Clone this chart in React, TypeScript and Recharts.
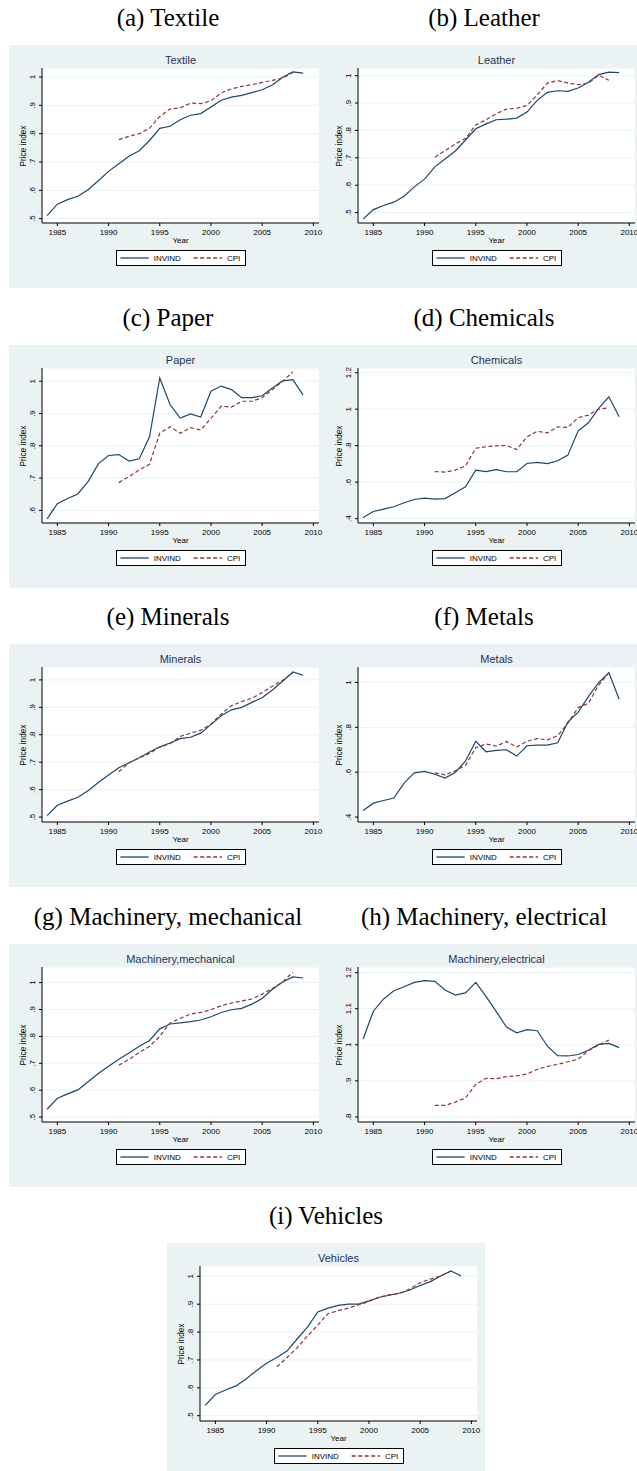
import React from 'react';
import { LineChart, Line, XAxis, YAxis, CartesianGrid } from 'recharts';

const YEARS = [1984, 1985, 1986, 1987, 1988, 1989, 1990, 1991, 1992, 1993, 1994, 1995, 1996, 1997, 1998, 1999, 2000, 2001, 2002, 2003, 2004, 2005, 2006, 2007, 2008, 2009];
const CPI_START = 1991;
const X_TICKS = [1985, 1990, 1995, 2000, 2005, 2010];
const SERIES_NAMES = ['INVIND', 'CPI'];

const textileInvind = [0.511, 0.551, 0.567, 0.579, 0.602, 0.634, 0.667, 0.694, 0.72, 0.74, 0.776, 0.819, 0.826, 0.849, 0.865, 0.871, 0.894, 0.918, 0.929, 0.935, 0.945, 0.955, 0.972, 0.999, 1.018, 1.014];
const textileCpi = [0.779, 0.791, 0.8, 0.819, 0.861, 0.887, 0.891, 0.908, 0.906, 0.916, 0.944, 0.958, 0.967, 0.973, 0.981, 0.988, 0.996, 1.016];

const leatherInvind = [0.476, 0.511, 0.526, 0.538, 0.56, 0.594, 0.622, 0.667, 0.696, 0.725, 0.765, 0.806, 0.824, 0.839, 0.841, 0.845, 0.867, 0.91, 0.939, 0.945, 0.943, 0.955, 0.976, 1.004, 1.013, 1.011];
const leatherCpi = [0.702, 0.726, 0.751, 0.771, 0.82, 0.839, 0.861, 0.878, 0.881, 0.891, 0.93, 0.973, 0.982, 0.973, 0.967, 0.973, 1.001, 0.983];

const paperInvind = [0.574, 0.621, 0.637, 0.651, 0.689, 0.744, 0.77, 0.773, 0.753, 0.76, 0.828, 1.01, 0.928, 0.886, 0.899, 0.889, 0.969, 0.985, 0.974, 0.949, 0.949, 0.955, 0.979, 1.001, 1.005, 0.957];
const paperCpi = [0.686, 0.705, 0.725, 0.743, 0.839, 0.859, 0.839, 0.856, 0.849, 0.885, 0.923, 0.92, 0.938, 0.938, 0.949, 0.974, 1.0, 1.029];

const chemicalsInvind = [0.406, 0.439, 0.452, 0.465, 0.487, 0.505, 0.512, 0.507, 0.51, 0.542, 0.574, 0.666, 0.658, 0.669, 0.657, 0.657, 0.702, 0.708, 0.702, 0.717, 0.748, 0.881, 0.925, 1.004, 1.068, 0.958];
const chemicalsCpi = [0.658, 0.655, 0.666, 0.689, 0.786, 0.794, 0.799, 0.801, 0.779, 0.848, 0.879, 0.87, 0.903, 0.9, 0.954, 0.967, 1.0, 1.007];

const mineralsInvind = [0.505, 0.543, 0.558, 0.572, 0.596, 0.626, 0.653, 0.68, 0.698, 0.716, 0.737, 0.756, 0.77, 0.786, 0.791, 0.806, 0.837, 0.869, 0.891, 0.9, 0.918, 0.935, 0.963, 0.995, 1.029, 1.017];
const mineralsCpi = [0.665, 0.698, 0.716, 0.732, 0.755, 0.767, 0.794, 0.806, 0.816, 0.839, 0.875, 0.906, 0.921, 0.933, 0.954, 0.977, 0.999, 1.025];

const metalsInvind = [0.429, 0.462, 0.474, 0.485, 0.551, 0.597, 0.604, 0.591, 0.574, 0.599, 0.65, 0.738, 0.691, 0.697, 0.7, 0.672, 0.718, 0.721, 0.721, 0.731, 0.824, 0.868, 0.937, 0.999, 1.044, 0.925];
const metalsCpi = [0.597, 0.588, 0.606, 0.631, 0.709, 0.726, 0.716, 0.737, 0.712, 0.738, 0.75, 0.744, 0.763, 0.819, 0.888, 0.907, 0.988, 1.043];

const mechInvind = [0.529, 0.57, 0.586, 0.601, 0.631, 0.662, 0.689, 0.715, 0.738, 0.763, 0.785, 0.828, 0.846, 0.85, 0.855, 0.861, 0.873, 0.889, 0.899, 0.904, 0.92, 0.941, 0.975, 1.002, 1.021, 1.017];
const mechCpi = [0.693, 0.714, 0.74, 0.763, 0.8, 0.85, 0.867, 0.883, 0.889, 0.899, 0.914, 0.924, 0.932, 0.939, 0.957, 0.978, 1.002, 1.039];

const elecInvind = [1.016, 1.093, 1.127, 1.15, 1.161, 1.173, 1.178, 1.176, 1.152, 1.138, 1.144, 1.173, 1.134, 1.092, 1.049, 1.033, 1.042, 1.039, 0.996, 0.97, 0.969, 0.973, 0.985, 1.001, 1.004, 0.992];
const elecCpi = [0.832, 0.832, 0.841, 0.853, 0.89, 0.907, 0.906, 0.912, 0.914, 0.919, 0.932, 0.94, 0.946, 0.953, 0.96, 0.984, 0.999, 1.013];

const vehiclesInvind = [0.537, 0.576, 0.592, 0.607, 0.632, 0.661, 0.688, 0.709, 0.732, 0.776, 0.818, 0.872, 0.886, 0.896, 0.9, 0.9, 0.912, 0.925, 0.932, 0.94, 0.951, 0.967, 0.981, 1.001, 1.019, 1.001];
const vehiclesCpi = [0.675, 0.709, 0.744, 0.786, 0.825, 0.866, 0.877, 0.886, 0.898, 0.91, 0.925, 0.934, 0.938, 0.955, 0.977, 0.99, 1.001, 1.019];

const TICKS_05_10 = [0.5, 0.6, 0.7, 0.8, 0.9, 1.0];
const TICKS_06_10 = [0.6, 0.7, 0.8, 0.9, 1.0];
const TICKS_04_12 = [0.4, 0.6, 0.8, 1.0, 1.2];
const TICKS_04_10 = [0.4, 0.6, 0.8, 1.0];
const TICKS_08_12 = [0.8, 0.9, 1.0, 1.1, 1.2];

const CAPTIONS = ['(a) Textile', '(b) Leather', '(c) Paper', '(d) Chemicals', '(e) Minerals', '(f) Metals', '(g) Machinery, mechanical', '(h) Machinery, electrical', '(i) Vehicles'];
const TITLES = ['Textile', 'Leather', 'Paper', 'Chemicals', 'Minerals', 'Metals', 'Machinery,mechanical', 'Machinery,electrical', 'Vehicles'];

const NAVY = '#1a476f';
const MAROON = '#90353b';
const BG = '#eaf2f3';
const SANS = '"Liberation Sans", Arial, sans-serif';

const PW = 318;
const PH = 243;
const PLOT_L = 33;
const PLOT_R = 8;
const PLOT_T = 23;
const PLOT_B = 178;
const PLOT_CX = PLOT_L + (PW - PLOT_L - PLOT_R) / 2;
const X_DOMAIN: [number, number] = [1983.5, 2010.55];

const fmtTick = (v: number) => {
  const s = (Math.round(v * 10) / 10).toString();
  return s.startsWith('0.') ? s.slice(1) : s;
};

const buildRows = (invind: number[], cpi: number[]) =>
  YEARS.map((yr, i) => ({
    year: yr,
    invind: invind[i],
    cpi: yr >= CPI_START ? cpi[yr - CPI_START] : null,
  }));

const YTick = (props: any) => {
  const { x, y, payload } = props;
  const bx = x - 1.8;
  return (
    <text x={bx} y={y} transform={`rotate(-90 ${bx} ${y})`} textAnchor="middle" fontSize={8} fontFamily={SANS} fill="#000">
      {fmtTick(payload.value)}
    </text>
  );
};

type PanelProps = {
  left: number;
  top: number;
  caption: string;
  title: string;
  invind: number[];
  cpi: number[];
  yDomain: [number, number];
  yTicks: number[];
};

const Panel = ({ left, top, caption, title, invind, cpi, yDomain, yTicks }: PanelProps) => {
  const data = buildRows(invind, cpi);
  return (
    <>
      <div style={{ position: 'absolute', left, top: top - 42, width: PW, height: 30, lineHeight: '30px', textAlign: 'center', fontFamily: '"Liberation Serif", serif', fontSize: 25, color: '#000', whiteSpace: 'nowrap' }}>
        {caption}
      </div>
      <div style={{ position: 'absolute', left, top, width: PW, height: PH, background: BG, overflow: 'hidden' }}>
        <div style={{ position: 'absolute', left: 0, top: 0 }}>
          <LineChart width={PW} height={PH} data={data} margin={{ top: PLOT_T, right: PLOT_R, bottom: PH - PLOT_B - 20, left: PLOT_L - 20 }}>
            <CartesianGrid vertical={false} stroke={BG} strokeWidth={1} fill="#fff" />
            <XAxis
              dataKey="year"
              type="number"
              domain={X_DOMAIN}
              ticks={X_TICKS}
              interval={0}
              allowDataOverflow
              height={20}
              tickSize={3}
              tickMargin={3}
              axisLine={{ stroke: '#000', strokeWidth: 1 }}
              tickLine={{ stroke: '#000', strokeWidth: 1 }}
              tick={{ fontSize: 8, fill: '#000', fontFamily: SANS }}
            />
            <YAxis
              type="number"
              domain={yDomain}
              ticks={yTicks}
              interval={0}
              allowDataOverflow
              width={20}
              tickSize={3}
              tickMargin={2}
              axisLine={{ stroke: '#000', strokeWidth: 1 }}
              tickLine={{ stroke: '#000', strokeWidth: 1 }}
              tick={<YTick />}
            />
            <Line type="linear" dataKey="invind" stroke={NAVY} strokeWidth={1.2} dot={false} isAnimationActive={false} />
            <Line type="linear" dataKey="cpi" stroke={MAROON} strokeWidth={1.2} strokeDasharray="4 2.5" dot={false} isAnimationActive={false} />
          </LineChart>
        </div>
        <div style={{ position: 'absolute', left: PLOT_L, width: PW - PLOT_L - PLOT_R, top: 8, height: 14, lineHeight: '14px', textAlign: 'center', fontFamily: SANS, fontSize: 11, color: '#23325a', whiteSpace: 'nowrap' }}>
          {title}
        </div>
        <div style={{ position: 'absolute', left: PLOT_L, width: PW - PLOT_L - PLOT_R, top: 191, height: 10, lineHeight: '10px', textAlign: 'center', fontFamily: SANS, fontSize: 8, color: '#000' }}>
          Year
        </div>
        <div style={{ position: 'absolute', left: 14.3 - 40, top: 100.5 - 5, width: 80, height: 10, lineHeight: '10px', textAlign: 'center', fontFamily: SANS, fontSize: 8.3, color: '#000', transform: 'rotate(-90deg)', whiteSpace: 'nowrap' }}>
          Price index
        </div>
        <div style={{ position: 'absolute', left: PLOT_CX - 65, top: 205, width: 130, height: 16, boxSizing: 'border-box', border: '1px solid #000', background: '#fff' }}>
          <svg width={128} height={14} style={{ display: 'block' }}>
            <line x1={3.4} x2={31.7} y1={7} y2={7} stroke={NAVY} strokeWidth={1.3} />
            <text x={36.7} y={9.9} fontSize={8} fontFamily={SANS} fill="#000">{SERIES_NAMES[0]}</text>
            <line x1={76.7} x2={105} y1={7} y2={7} stroke={MAROON} strokeWidth={1.3} strokeDasharray="4 2.5" />
            <text x={110} y={9.9} fontSize={8} fontFamily={SANS} fill="#000">{SERIES_NAMES[1]}</text>
          </svg>
        </div>
      </div>
    </>
  );
};

const LAYOUT = [
  { left: 9, top: 45 },
  { left: 325, top: 45 },
  { left: 9, top: 345 },
  { left: 325, top: 345 },
  { left: 9, top: 644 },
  { left: 325, top: 644 },
  { left: 9, top: 944 },
  { left: 325, top: 944 },
  { left: 167, top: 1243 },
];

const PANELS = [
  { invind: textileInvind, cpi: textileCpi, yDomain: [0.4847, 1.0318] as [number, number], yTicks: TICKS_05_10 },
  { invind: leatherInvind, cpi: leatherCpi, yDomain: [0.462, 1.028] as [number, number], yTicks: TICKS_05_10 },
  { invind: paperInvind, cpi: paperCpi, yDomain: [0.561, 1.041] as [number, number], yTicks: TICKS_06_10 },
  { invind: chemicalsInvind, cpi: chemicalsCpi, yDomain: [0.376, 1.2256] as [number, number], yTicks: TICKS_04_12 },
  { invind: mineralsInvind, cpi: mineralsCpi, yDomain: [0.482, 1.047] as [number, number], yTicks: TICKS_05_10 },
  { invind: metalsInvind, cpi: metalsCpi, yDomain: [0.378, 1.069] as [number, number], yTicks: TICKS_04_10 },
  { invind: mechInvind, cpi: mechCpi, yDomain: [0.4816, 1.058] as [number, number], yTicks: TICKS_05_10 },
  { invind: elecInvind, cpi: elecCpi, yDomain: [0.786, 1.2156] as [number, number], yTicks: TICKS_08_12 },
  { invind: vehiclesInvind, cpi: vehiclesCpi, yDomain: [0.481, 1.037] as [number, number], yTicks: TICKS_05_10 },
];

export default function App() {
  return (
    <div style={{ position: 'absolute', left: 0, top: 0, width: 637, height: 1471, overflow: 'hidden', background: '#fff' }}>
      {PANELS.map((p, i) => (
        <Panel key={i} left={LAYOUT[i].left} top={LAYOUT[i].top} caption={CAPTIONS[i]} title={TITLES[i]} invind={p.invind} cpi={p.cpi} yDomain={p.yDomain} yTicks={p.yTicks} />
      ))}
    </div>
  );
}
